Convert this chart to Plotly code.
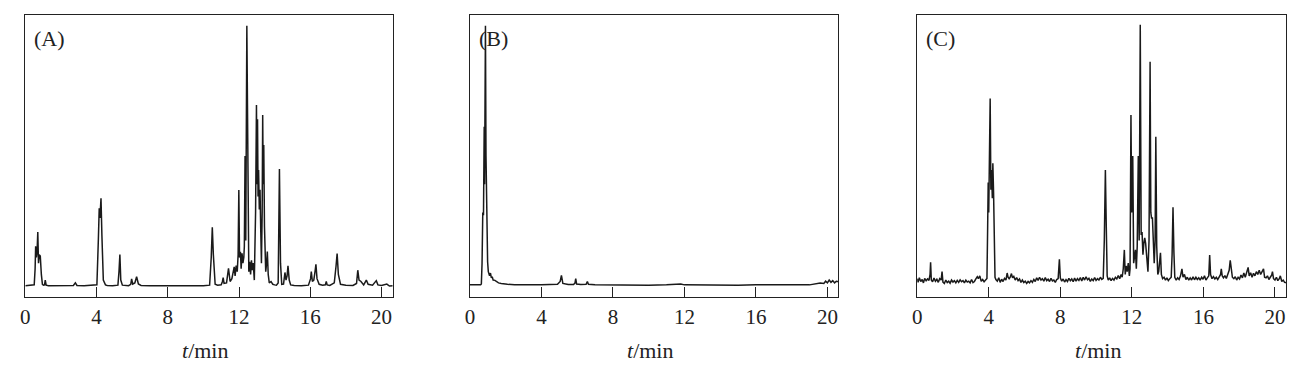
import plotly.graph_objects as go

# ---------------- data ----------------
a_time = [
    0.00, 0.30, 0.50, 0.55, 0.58, 0.62, 0.66, 0.70, 0.74, 0.78,
    0.84, 0.90, 0.96, 1.02, 1.08, 1.12, 1.17, 1.30, 1.80, 2.30,
    2.70, 2.81, 2.90, 3.30, 3.80, 4.02, 4.10, 4.15, 4.19, 4.25,
    4.30, 4.38, 4.50, 4.60, 4.90, 5.20, 5.26, 5.31, 5.36, 5.45,
    5.80, 5.92, 5.97, 6.03, 6.15, 6.25, 6.35, 6.50, 7.00, 7.50,
    8.00, 8.50, 9.00, 9.50, 10.00, 10.35, 10.44, 10.50, 10.56, 10.66,
    10.80, 11.00, 11.07, 11.11, 11.16, 11.30, 11.41, 11.50, 11.60, 11.70,
    11.73, 11.78, 11.84, 11.90, 11.95, 11.99, 12.03, 12.08, 12.12, 12.17,
    12.22, 12.27, 12.30, 12.34, 12.38, 12.44, 12.50, 12.55, 12.60, 12.65,
    12.70, 12.75, 12.80, 12.86, 12.93, 12.98, 13.01, 13.04, 13.07, 13.10,
    13.14, 13.18, 13.22, 13.26, 13.30, 13.33, 13.36, 13.39, 13.43, 13.46,
    13.50, 13.55, 13.59, 13.64, 13.70, 13.80, 13.90, 14.00, 14.10, 14.20,
    14.27, 14.33, 14.40, 14.50, 14.58, 14.64, 14.70, 14.75, 14.82, 14.90,
    15.10, 15.50, 15.90, 16.02, 16.06, 16.12, 16.20, 16.28, 16.32, 16.38,
    16.50, 16.70, 16.85, 16.90, 16.95, 17.10, 17.35, 17.45, 17.51, 17.58,
    17.70, 18.00, 18.40, 18.60, 18.67, 18.74, 18.85, 19.00, 19.15, 19.25,
    19.50, 19.71, 19.80, 20.00, 20.30, 20.45, 20.65,
]
a_signal = [
    4.0, 4.1, 4.3, 10.0, 18.0, 14.0, 16.0, 23.0, 12.0, 15.0,
    14.5, 8.0, 4.5, 4.2, 4.3, 6.0, 4.2, 4.0, 4.1, 4.0,
    4.1, 5.0, 4.1, 4.0, 4.1, 4.3, 20.0, 31.5, 28.0, 35.0,
    22.0, 6.0, 4.3, 4.1, 4.0, 4.2, 9.0, 15.1, 6.0, 4.2,
    4.0, 4.5, 6.4, 4.6, 5.0, 7.2, 4.6, 4.1, 4.0, 4.1,
    4.0, 4.0, 4.1, 4.0, 4.0, 4.2, 14.0, 24.7, 15.0, 4.5,
    4.2, 4.3, 5.5, 6.9, 4.8, 5.0, 10.2, 5.5, 6.5, 9.5,
    10.7, 7.5, 11.1, 9.0, 15.0, 37.9, 14.0, 16.0, 10.0, 15.5,
    12.0, 14.0, 18.0, 50.0, 20.0, 96.2, 23.2, 9.0, 12.5, 8.0,
    13.0, 9.5, 12.0, 6.0, 30.0, 68.1, 40.0, 63.0, 35.6, 45.0,
    31.0, 38.0, 24.0, 12.0, 30.0, 64.5, 40.0, 53.9, 25.0, 16.0,
    9.0, 12.0, 16.1, 8.0, 5.0, 5.5, 4.5, 4.3, 4.2, 5.0,
    45.4, 12.0, 4.5, 4.6, 8.7, 6.0, 7.5, 11.1, 6.0, 4.3,
    4.1, 4.0, 4.2, 6.5, 9.0, 5.5, 6.0, 9.5, 11.6, 6.5,
    4.5, 4.2, 4.3, 5.5, 4.3, 4.1, 5.0, 11.0, 15.4, 8.0,
    4.5, 4.2, 4.1, 4.8, 9.5, 6.0, 5.5, 4.3, 6.0, 4.5,
    4.2, 5.8, 4.3, 4.1, 4.6, 3.9, 4.0,
]

b_time = [
    0.00, 0.30, 0.60, 0.64, 0.68, 0.72, 0.74, 0.76, 0.78, 0.80,
    0.82, 0.84, 0.87, 0.90, 0.93, 0.96, 0.99, 1.03, 1.07, 1.10,
    1.15, 1.20, 1.25, 1.30, 1.40, 1.50, 1.60, 1.75, 1.90, 2.10,
    2.50, 3.00, 3.50, 4.00, 4.50, 4.90, 5.05, 5.12, 5.20, 5.50,
    5.80, 5.88, 5.92, 5.97, 6.20, 6.50, 6.57, 6.63, 7.00, 8.00,
    9.00, 10.00, 11.00, 11.50, 11.80, 12.00, 13.00, 14.00, 15.00, 16.00,
    17.00, 18.00, 19.00, 19.40, 19.60, 19.80, 19.90, 20.00, 20.10, 20.20,
    20.30, 20.40, 20.50, 20.65,
]
b_signal = [
    4.3, 4.3, 4.3, 4.6, 12.0, 30.0, 45.0, 29.0, 55.0, 60.4,
    40.0, 62.0, 96.2, 50.0, 29.0, 20.0, 12.5, 9.0, 8.0, 7.5,
    8.5, 6.8, 7.2, 6.0, 5.9, 5.4, 5.0, 4.8, 4.6, 4.5,
    4.3, 4.4, 4.3, 4.3, 4.4, 4.5, 5.5, 7.7, 4.8, 4.4,
    4.4, 5.0, 6.5, 4.6, 4.4, 4.5, 5.5, 4.5, 4.3, 4.2,
    4.3, 4.2, 4.3, 4.4, 4.6, 4.3, 4.2, 4.3, 4.2, 4.3,
    4.2, 4.3, 4.3, 4.6, 5.0, 4.8, 5.6, 5.0, 6.0, 5.2,
    5.8, 5.0, 5.6, 5.4,
]

c_time = [
    0.00, 0.05, 0.12, 0.20, 0.28, 0.35, 0.42, 0.50, 0.58, 0.66,
    0.72, 0.75, 0.79, 0.86, 0.94, 1.02, 1.10, 1.18, 1.26, 1.34,
    1.39, 1.44, 1.52, 1.60, 1.68, 1.76, 1.84, 1.92, 2.00, 2.08,
    2.16, 2.24, 2.32, 2.40, 2.48, 2.56, 2.64, 2.72, 2.80, 2.88,
    2.96, 3.04, 3.12, 3.20, 3.28, 3.36, 3.42, 3.50, 3.58, 3.66,
    3.74, 3.82, 3.90, 3.94, 3.97, 4.00, 4.04, 4.08, 4.12, 4.16,
    4.20, 4.23, 4.27, 4.31, 4.35, 4.40, 4.48, 4.56, 4.64, 4.72,
    4.80, 4.88, 4.96, 5.03, 5.08, 5.14, 5.20, 5.27, 5.33, 5.40,
    5.48, 5.56, 5.64, 5.72, 5.80, 5.88, 5.96, 6.04, 6.12, 6.20,
    6.28, 6.36, 6.44, 6.52, 6.60, 6.68, 6.76, 6.84, 6.92, 7.00,
    7.08, 7.16, 7.24, 7.32, 7.40, 7.48, 7.56, 7.64, 7.72, 7.80,
    7.88, 7.95, 8.00, 8.08, 8.16, 8.24, 8.32, 8.40, 8.48, 8.56,
    8.64, 8.72, 8.80, 8.88, 8.96, 9.04, 9.12, 9.20, 9.28, 9.36,
    9.44, 9.52, 9.60, 9.68, 9.76, 9.84, 9.92, 10.00, 10.08, 10.16,
    10.24, 10.32, 10.40, 10.46, 10.52, 10.57, 10.62, 10.68, 10.76, 10.84,
    10.92, 11.00, 11.08, 11.16, 11.24, 11.32, 11.40, 11.46, 11.52, 11.58,
    11.63, 11.68, 11.74, 11.80, 11.86, 11.90, 11.95, 11.99, 12.05, 12.10,
    12.15, 12.20, 12.25, 12.30, 12.36, 12.41, 12.47, 12.52, 12.57, 12.62,
    12.67, 12.72, 12.77, 12.82, 12.90, 12.96, 13.02, 13.06, 13.10, 13.15,
    13.20, 13.25, 13.30, 13.34, 13.39, 13.45, 13.50, 13.55, 13.60, 13.65,
    13.72, 13.80, 13.88, 13.96, 14.04, 14.12, 14.20, 14.25, 14.30, 14.35,
    14.40, 14.48, 14.56, 14.64, 14.72, 14.80, 14.86, 14.94, 15.02, 15.10,
    15.18, 15.26, 15.34, 15.42, 15.50, 15.58, 15.66, 15.74, 15.82, 15.90,
    15.98, 16.06, 16.14, 16.22, 16.30, 16.35, 16.40, 16.48, 16.56, 16.64,
    16.72, 16.80, 16.88, 16.96, 17.00, 17.05, 17.12, 17.20, 17.28, 17.36,
    17.44, 17.50, 17.56, 17.62, 17.70, 17.78, 17.86, 17.94, 18.02, 18.10,
    18.18, 18.26, 18.34, 18.42, 18.50, 18.56, 18.64, 18.72, 18.80, 18.88,
    18.96, 19.04, 19.12, 19.20, 19.28, 19.36, 19.42, 19.50, 19.58, 19.66,
    19.74, 19.82, 19.86, 19.92, 20.00, 20.08, 20.16, 20.24, 20.30, 20.38,
    20.46, 20.54, 20.65,
]
c_signal = [
    6.5, 5.2, 6.8, 5.5, 6.2, 5.0, 6.6, 5.8, 6.4, 5.9,
    8.0, 12.3, 6.0, 5.4, 6.7, 5.6, 6.3, 5.2, 6.5, 6.0,
    9.0, 5.3, 4.8, 6.0, 5.1, 5.6, 4.9, 6.0, 5.3, 5.8,
    5.0, 5.9, 5.2, 6.1, 5.4, 5.8, 5.0, 6.0, 5.3, 5.6,
    5.0, 6.2, 5.1, 5.5, 6.4, 7.2, 6.5, 7.5, 5.6, 6.2,
    5.4, 6.0, 6.6, 25.0, 40.6, 30.0, 48.0, 70.4, 38.0, 45.0,
    35.0, 47.4, 37.0, 20.0, 7.0, 6.2, 5.6, 6.8, 5.2, 6.3,
    5.5, 6.6, 6.0, 8.5, 7.0, 6.5, 7.0, 8.3, 6.8, 7.3,
    6.0, 6.9, 5.8, 6.4, 5.2, 6.0, 5.1, 5.6, 4.8, 5.5,
    5.0, 5.8, 5.2, 6.2, 5.5, 6.8, 5.9, 7.0, 6.0, 6.5,
    5.6, 6.9, 5.8, 6.3, 5.5, 6.6, 5.7, 6.0, 5.2, 6.2,
    6.5, 13.4, 6.8, 5.6, 6.4, 5.3, 6.2, 5.5, 6.6, 5.8,
    6.4, 5.4, 6.7, 5.6, 6.5, 5.9, 6.9, 5.7, 7.0, 6.0,
    7.2, 6.1, 6.6, 5.5, 6.4, 5.8, 6.9, 5.9, 6.5, 6.0,
    7.0, 6.2, 6.6, 20.0, 45.0, 25.0, 7.5, 6.0, 6.8, 5.8,
    6.6, 6.0, 7.0, 6.4, 7.6, 6.5, 8.0, 7.0, 10.0, 16.7,
    8.0, 11.0, 9.0, 12.0, 7.5, 10.0, 64.5, 30.0, 50.0, 12.0,
    14.0, 16.7, 10.0, 18.0, 50.0, 20.0, 96.5, 22.0, 23.0, 15.0,
    19.0, 21.0, 19.0, 15.0, 9.0, 20.0, 83.4, 30.0, 28.0, 28.0,
    22.0, 12.0, 20.0, 56.8, 18.0, 8.0, 9.0, 12.0, 15.7, 8.0,
    6.5, 7.0, 6.0, 6.8, 5.8, 6.5, 7.0, 15.0, 31.8, 16.0,
    7.0, 6.0, 6.8, 6.2, 7.5, 10.0, 7.0, 8.0, 6.2, 7.0,
    6.0, 6.8, 6.0, 7.2, 6.1, 7.0, 6.2, 6.8, 6.0, 7.0,
    6.3, 7.5, 6.0, 6.8, 7.5, 14.9, 8.0, 6.5, 7.2, 6.4,
    7.0, 6.2, 7.4, 8.0, 10.0, 7.5, 6.8, 7.6, 6.6, 7.8,
    9.5, 13.0, 9.0, 7.0, 6.5, 7.2, 6.0, 7.0, 6.4, 7.8,
    6.8, 8.5, 7.0, 9.0, 10.5, 7.5, 8.6, 7.0, 8.4, 7.5,
    9.0, 8.0, 9.5, 8.0, 9.0, 10.0, 7.0, 6.8, 7.5, 6.2,
    7.0, 7.8, 9.0, 6.5, 6.0, 7.0, 5.8, 6.5, 7.5, 5.5,
    6.0, 5.2, 5.0,
]

panel_labels = ["(A)", "(B)", "(C)"]
x_ticks = [0, 4, 8, 12, 16, 20]
x_title = "<i>t</i>/min"

assert len(a_time) == len(a_signal)
assert len(b_time) == len(b_signal)
assert len(c_time) == len(c_signal)

# ---------------- layout ----------------
W, H = 1301, 378
SERIF = "Liberation Serif, Times New Roman, serif"
panels_px = [(20.4, 389.0), (466.7, 836.7), (915.7, 1286.0)]
top_px, bot_px = 15.0, 297.0
y_dom = [1 - bot_px / H, 1 - top_px / H]

fig = go.Figure()
series = [(a_time, a_signal), (b_time, b_signal), (c_time, c_signal)]
for i, (tt, ss) in enumerate(series):
    sfx = "" if i == 0 else str(i + 1)
    fig.add_trace(go.Scatter(
        x=tt, y=ss, mode="lines",
        line=dict(color="#1a1a1a", width=1.5),
        xaxis="x" + sfx, yaxis="y" + sfx, showlegend=False, hoverinfo="skip",
    ))

ax_common = dict(showline=True, mirror=True, linecolor="#222", linewidth=1.4,
                 showgrid=False, zeroline=False)
for i, (l, r) in enumerate(panels_px):
    sfx = "" if i == 0 else str(i + 1)
    fig.update_layout(**{
        "xaxis" + sfx: dict(
            domain=[l / W, r / W], range=[0, 20.62], anchor="y" + sfx,
            tickmode="array", tickvals=x_ticks, ticktext=[str(v) for v in x_ticks],
            ticks="inside", ticklen=10, tickwidth=1.4, tickcolor="#222",
            tickfont=dict(family=SERIF, size=21, color="#222"),
            ticklabelstandoff=1,
            **ax_common),
        "yaxis" + sfx: dict(
            domain=y_dom, range=[0, 100], anchor="x" + sfx,
            showticklabels=False, ticks="", **ax_common),
    })
    fig.add_annotation(
        text=x_title, xref="paper", yref="paper",
        x=((l + r) / 2 - 4) / W, y=1 - 350 / H, xanchor="center", yanchor="middle",
        showarrow=False, font=dict(family=SERIF, size=22, color="#222"))
    fig.add_annotation(
        text=panel_labels[i], xref="paper", yref="paper",
        x=(l + 7) / W, y=1 - 39 / H, xanchor="left", yanchor="middle",
        showarrow=False, font=dict(family=SERIF, size=22, color="#222"))

fig.update_layout(
    width=W, height=H, margin=dict(l=0, r=0, t=0, b=0),
    paper_bgcolor="white", plot_bgcolor="white",
)

fig.write_html("out.html")
